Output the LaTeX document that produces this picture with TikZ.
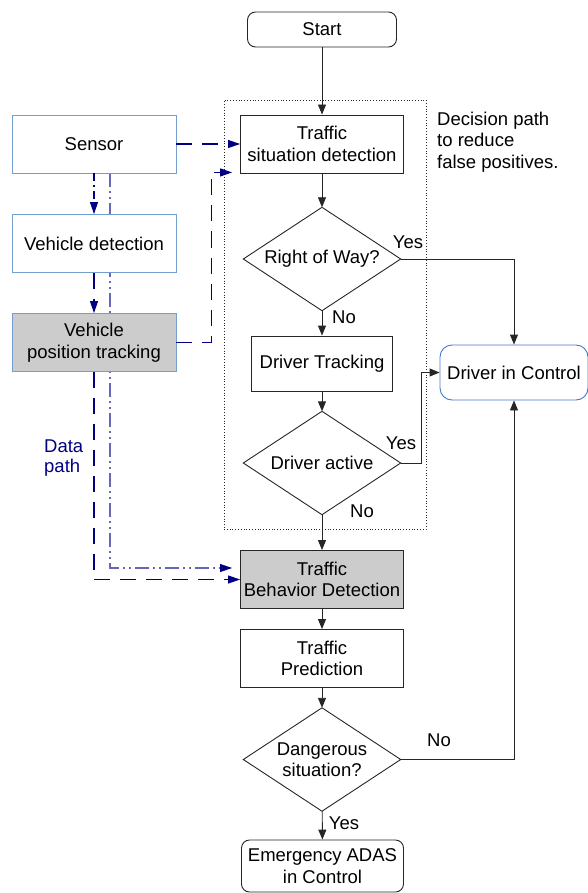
\documentclass[tikz,border=0pt]{standalone}
\usepackage{fontspec}
\setmainfont{Liberation Sans}
\usetikzlibrary{arrows.meta,calc}
\definecolor{navyline}{RGB}{0,0,128}
\definecolor{lightpath}{RGB}{102,102,187}
\definecolor{boxblue}{RGB}{114,159,207}
\definecolor{ctrlblue}{RGB}{70,120,200}
\definecolor{fillgray}{RGB}{204,204,204}
\pgfdeclarelayer{background}
\pgfsetlayers{background,main}
\begin{document}
\begin{tikzpicture}[x=1pt,y=-1pt,
  font=\fontsize{18.5}{21.5}\selectfont,
  base/.style={align=center,inner sep=2pt,fill=white,line width=0.9pt},
  procbox/.style={base,draw=black!85,minimum width=163pt,minimum height=58pt},
  sidebox/.style={base,draw=boxblue,minimum width=164pt,minimum height=58pt},
  termbox/.style={base,draw=black!85,rounded corners=8pt},
  decision/.style={align=center,inner sep=0pt,minimum width=157pt,minimum height=103pt},
  diamondline/.style={draw=black!85,line width=0.9pt,line join=miter},
  lbl/.style={inner sep=0pt},
  flow/.style={draw=black!85,line width=0.9pt,-{Triangle[length=10pt,width=8pt]}},
  data/.style={draw=navyline,line width=1.1pt,-{Triangle[length=12pt,width=8pt,color=navyline]}},
  longdash/.style={dash pattern=on 16pt off 10pt},
  dashdotted/.style={dash pattern=on 8pt off 4pt on 2pt off 4pt},
  dashdotdotted/.style={dash pattern=on 14pt off 4pt on 2pt off 4pt on 2pt off 4pt}
]
\useasboundingbox (0,0) rectangle (587,893);

% main flow
\node[termbox,minimum width=149pt,minimum height=35pt] (start) at (322,29.5) {Start};
\node[draw=black!85,dotted,line width=0.8pt,minimum width=202pt,minimum height=429pt,inner sep=0pt] (decbox) at (325,314.5) {};
\node[procbox] (tsd) at (322,144) {Traffic\\situation detection};
\node[decision] (row) at (322,259) {Right of Way?};
\node[procbox,minimum width=141pt,minimum height=55pt] (dtrack) at (322,363.5) {Driver Tracking};
\node[decision] (dact) at (322,463) {Driver active};
\node[procbox,fill=fillgray] (tbd) at (322,579.5) {Traffic\\Behavior Detection};
\node[procbox] (tp) at (322,658.5) {Traffic\\Prediction};
\node[decision] (dang) at (322,759.5) {Dangerous\\situation?};
\node[termbox,minimum width=162pt,minimum height=52pt] (emer) at (322.5,866) {Emergency ADAS\\in Control};
\node[base,draw=ctrlblue,rounded corners=12pt,minimum width=148pt,minimum height=55pt] (dic) at (514,372.5) {Driver in Control};

% decision outlines
\foreach \d in {row,dact,dang}
  \draw[diamondline] (\d.north) -- (\d.east) -- (\d.south) -- (\d.west) -- cycle;

% data path boxes
\node[sidebox] (sensor) at (94,144) {Sensor};
\node[sidebox] (vdet) at (94,243.5) {Vehicle detection};
\node[sidebox,fill=fillgray] (vpt) at (94,342.5) {Vehicle\\position tracking};

% notes
\node[lbl,anchor=west,align=left] (note) at (437,142) {Decision path\\to reduce\\false positives.};
\node[lbl,anchor=west,align=left,text=navyline,font=\fontsize{18.5}{20}\selectfont] (datalbl) at (44,458) {Data\\path};

% decision labels
\node[lbl] (yes1) at (408,242) {Yes};
\node[lbl] (no1) at (344,317) {No};
\node[lbl] (yes2) at (401,443) {Yes};
\node[lbl] (no2) at (362,511) {No};
\node[lbl] (no3) at (439,740) {No};
\node[lbl] (yes3) at (344,823) {Yes};

% control flow connectors
\draw[flow] (start) -- (tsd);
\draw[flow] (tsd) -- (row);
\draw[flow] (row) -- (dtrack);
\draw[flow] (row.east) -| (dic.north);
\draw[flow] (dact.east) -- ++(21,0) |- (dic.west);
\draw[flow] (dtrack) -- (dact);
\draw[flow] (dact) -- (tbd);
\draw[flow] (tbd) -- (tp);
\draw[flow] (tp) -- (dang);
\draw[flow] (dang.east) -| (dic.south);
\draw[flow] (dang) -- (emer);

% data path connectors
\coordinate (tsdin) at ($(tsd.south west)+(-8,-1)$);
\coordinate (tbdin) at ($(tbd.west)+(-8,-11.5)$);
\coordinate (lpcorner) at (110,568);
\begin{pgfonlayer}{background}
\draw[data,draw=lightpath,dashdotdotted]
  (sensor.south -| lpcorner) -- (lpcorner) -- (tbdin);
\end{pgfonlayer}
\draw[data,longdash] (sensor.east) -- (tsd.west);
\draw[data,dashdotted] (sensor) -- (vdet);
\draw[data,longdash] (vdet) -- (vpt);
\draw[data,longdash] (vpt.east) -- ++(35,0) |- (tsdin);
\draw[data,longdash] (vpt.south) -- (vpt.south |- tbd.west) -- (tbd.west);
\end{tikzpicture}
\end{document}
